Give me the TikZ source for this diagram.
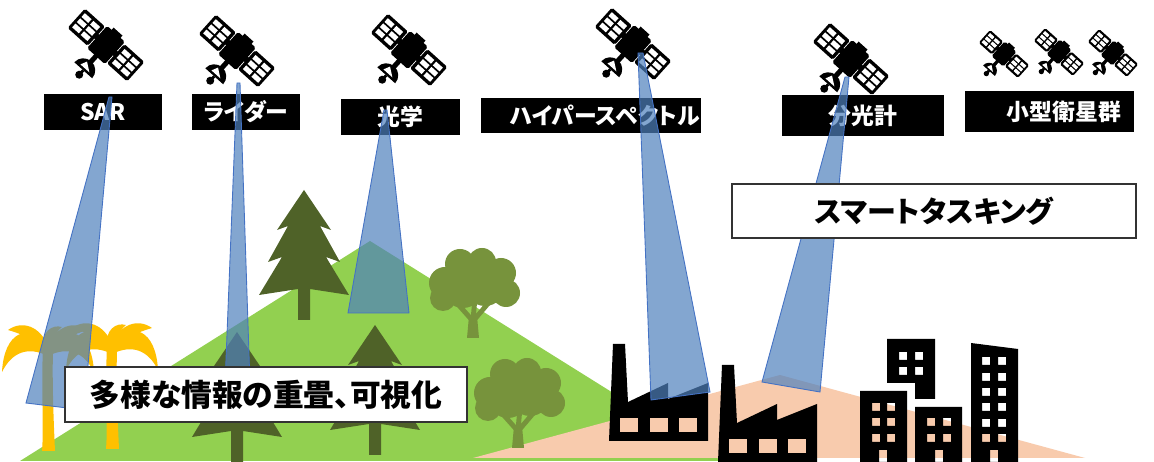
\documentclass[tikz,border=0pt]{standalone}
\usepackage{fontspec}
\newfontfamily\jpfont[RawFeature=+palt]{Noto Sans CJK JP}
\usepackage{tikz}
\definecolor{hillGreen}{HTML}{92D050}
\definecolor{sandPeach}{HTML}{F8CBAD}
\definecolor{pineGreen}{HTML}{4F6228}
\definecolor{leafGreen}{HTML}{77933C}
\definecolor{palmYellow}{HTML}{FFC000}
\definecolor{beamBlue}{HTML}{4F81BD}
\definecolor{beamEdge}{HTML}{4472C4}

\tikzset{
  lbl/.style={fill=black,text=white,inner sep=0pt,
    font=\jpfont\bfseries\fontsize{13}{15}\selectfont},
  infobox/.style={fill=white,draw=black!80,line width=0.8pt,inner sep=0pt},
  beam/.style={fill=beamBlue,fill opacity=0.7,draw=beamEdge,line width=0.5pt},
  sat/.pic={
    % panels
    \foreach \s in {-1,1} {
      \fill[black,rounded corners=1pt] ({\s*13},-13) rectangle ({\s*40},13);
      \foreach \a in {16.5,28}
        \foreach \b in {-9.5,-2.5,4.5}
          \fill[white] ({\s*\a},\b) rectangle ({\s*(\a+9)},{\b+5});
    }
    % body
    \fill[black] (-15,-3) rectangle (15,3);
    \fill[black,rounded corners=1pt] (-12,-15) rectangle (12,15);
    \fill[black] (-6,-18) rectangle (6,-14);
    % dish
    \fill[black] (-2.5,14) rectangle (2.5,24);
    \fill[black] (-12,34) arc[start angle=180,end angle=360,radius=12] -- cycle;
    \fill[white] (-6,31.5) -- (6,31.5) -- (-3,25) -- cycle;
    \draw[black,line width=1.6pt] (0,34) -- (0,39);
    \fill[black] (0,40) circle[radius=4];
  },
  pine/.pic={
    \fill[pineGreen] (0,0) -- (-27,40) -- (-16,36) -- (-36,72) -- (-22,67)
      -- (-45,105) -- (-6,99) -- (-6,130) -- (6,130) -- (6,99) -- (45,105)
      -- (22,67) -- (36,72) -- (16,36) -- (27,40) -- cycle;
  },
  bushtree/.pic={
    \fill[leafGreen] (-6,0) -- (-4,-22) -- (4,-22) -- (6,0) -- cycle;
    \draw[leafGreen,line width=2.8pt,line cap=round]
      (-1,-18) -- (-17,-36) (1,-18) -- (18,-38) (0,-18) -- (2,-40);
    \foreach \cx/\cy/\r in {-28/-55/16,-13/-74/15,9/-76/14,28/-65/15,
                            33/-45/14,12/-52/20,-10/-50/20,-30/-40/13}
      \fill[leafGreen] (\cx,\cy) circle[radius=\r];
  },
  palm/.pic={
    \fill[palmYellow] (-5,0) .. controls (-7,40) and (-4,80) .. (-6,103)
      -- (7,103) .. controls (6,80) and (4,40) .. (5,0) -- cycle;
    \foreach \s in {1,-1} {
      \begin{scope}[xscale=\s]
        \fill[palmYellow] (0,-3) .. controls (20,-26) and (44,-16) .. (46,24)
          .. controls (36,4) and (20,-2) .. (0,8) -- cycle;
        \fill[palmYellow] (0,-2) .. controls (8,-22) and (26,-28) .. (40,-18)
          .. controls (26,-14) and (12,-8) .. (2,4) -- cycle;
      \end{scope}
    }
    \fill[palmYellow] (-5,0) .. controls (-7,-16) and (4,-24) .. (14,-21)
      .. controls (7,-15) and (5,-8) .. (5,0) -- cycle;
  },
  factory/.pic={
    \fill[black] (0,0) -- (4,-97) -- (16,-97) -- (19,-39) -- (59,-58)
      -- (59,-42) -- (99,-58) -- (99,0) -- cycle;
    \foreach \wx in {11,41,70}
      \fill[sandPeach] (\wx,-23) rectangle ++(18,14);
  }
}

\begin{document}
\begin{tikzpicture}[x=0.02cm,y=-0.02cm]
\useasboundingbox (0,0) rectangle (1154,462);
\fill[white] (0,0) rectangle (1154,462);

% ground
\fill[hillGreen] (20,461) -- (370,241) -- (722,461) -- cycle;
\fill[sandPeach] (473,458) -- (780,375) -- (1085,458) -- cycle;

% trees
\pic at (304,190) {pine};
\pic at (237,332) {pine};
\pic at (375,325) {pine};
\pic at (473,338) {bushtree};
\pic at (518,448) {bushtree};
\pic at (48,348) {palm};
\pic at (112,346) {palm};

% factories
\pic at (609,441) {factory};
\pic at (718,462) {factory};

% buildings, windows left open
\fill[black,even odd rule] (887,339) -- (935,339) -- (935,399) -- (915,399)
  -- (915,383) -- (887,383) -- cycle
  \foreach \wx in {899,915} { \foreach \wy in {352,367} { (\wx,\wy) rectangle ++(8,8) } };
\fill[black,even odd rule] (860,391) rectangle (907,462)
  (879,450) rectangle (887,462)
  \foreach \wx in {872,887} { \foreach \wy in {403,418,434} { (\wx,\wy) rectangle ++(8,8) } };
\fill[black,even odd rule] (915,407) rectangle (962,462)
  (935,450) rectangle (943,462)
  \foreach \wx in {927,943} { \foreach \wy in {418,434} { (\wx,\wy) rectangle ++(8,8) } };
\fill[black,even odd rule] (971,343) -- (1018,349) -- (1018,462) -- (971,462) -- cycle
  (990,450) rectangle (998,462)
  \foreach \wx in {982,998} { \foreach \wy in {357,373,388,403,419,434} { (\wx,\wy) rectangle ++(8,8) } };

% satellites
\foreach \sx/\sy in {106/45,237/51,409/50,633/44,851/59}
  \pic[rotate=-42] at (\sx,\sy) {sat};
\foreach \sx/\sy in {1004/54,1059/52,1113/53}
  \pic[rotate=-42,scale=0.66] at (\sx,\sy) {sat};

% sensor labels
\node[lbl,minimum width=2.36cm,minimum height=0.72cm] (sar) at (103,112) {SAR};
\node[lbl,minimum width=2.16cm,minimum height=0.72cm] (lidar) at (246,112) {ライダー};
\node[lbl,minimum width=2.38cm,minimum height=0.72cm] (optic) at (400.5,117) {光学};
\node[lbl,minimum width=4.40cm,minimum height=0.70cm] (hyper) at (591,115.5) {\hspace*{0.56cm}ハイパースペクトル};
\node[lbl,minimum width=3.24cm,minimum height=0.82cm] (spectro) at (863,115.5) {分光計};
\node[lbl,minimum width=3.38cm,minimum height=0.82cm] (smallsat) at (1049.5,111.5) {\hspace*{0.58cm}小型衛星群};

% footprints
\draw[beam] (109,97) -- (112,97) -- (84,410) -- (26,403) -- cycle;
\draw[beam] (237,83) -- (240,83) -- (250,385) -- (225,385) -- cycle;
\draw[beam] (384,110) -- (387,110) -- (409,313) -- (348,313) -- cycle;
\draw[beam] (638,53) -- (643,53) -- (710,392) -- (651,400) -- cycle;
\draw[beam] (845,77) -- (849,77) -- (820,392) -- (762,382) -- cycle;

% captions
\node[infobox,minimum width=8.08cm,minimum height=1.08cm,
  font=\jpfont\bfseries\fontsize{16.5}{19}\selectfont] (tasking) at (934,211) {スマートタスキング};
\node[infobox,minimum width=8.04cm,minimum height=1.10cm,
  font=\jpfont\bfseries\fontsize{17.5}{20}\selectfont] (overlay) at (266,394.5) {多様な情報の重畳、可視化};
\end{tikzpicture}
\end{document}
